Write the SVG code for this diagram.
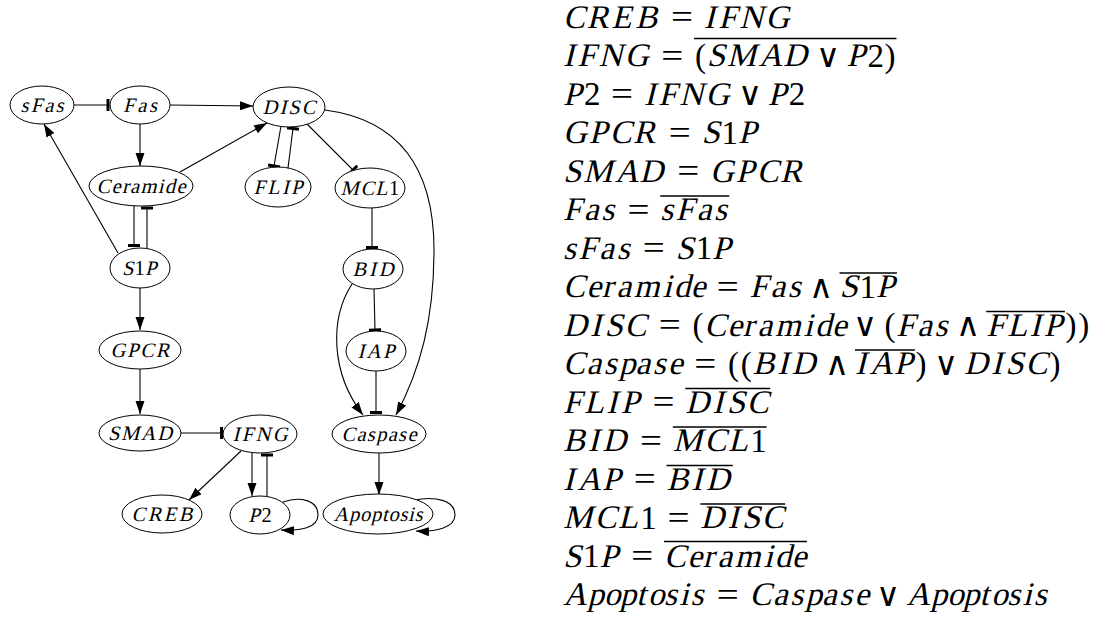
<svg xmlns="http://www.w3.org/2000/svg" width="1114" height="621" viewBox="0 0 1114 621">
  <style>
    .node ellipse { fill: #fff; stroke: #000; stroke-width: 1; }
    .lbl { font-size: 20.5px; fill: #000; }
    .mid { text-anchor: middle; }
    .edge { fill: none; stroke: #000; stroke-width: 1.1; }
    .act { marker-end: url(#arrow); }
    .inh { marker-end: url(#tee); }
    .eq { font-size: 33px; fill: #000; }
    .op { font-size: 33px; text-anchor: middle; fill: #000; }
    .bar { stroke: #000; stroke-width: 1.3; }
  </style>
  <defs>
    <marker id="arrow" viewBox="0 -5 13 10" refX="13" refY="0" markerWidth="13" markerHeight="10" markerUnits="userSpaceOnUse" orient="auto">
      <path d="M0,-4.5L13,0L0,4.5z" fill="#000"/>
    </marker>
    <marker id="tee" viewBox="-2 -7 4 14" refX="0" refY="0" markerWidth="4" markerHeight="14" markerUnits="userSpaceOnUse" orient="auto">
      <rect x="-1.5" y="-6" width="3" height="12" fill="#000"/>
    </marker>
  </defs>

  <!-- regulatory network; slanted labels use skewX(-14) shifted back so the baseline stays put -->
  <g id="edges">
    <path class="edge inh" d="M74,105 L108,105"/>
    <path class="edge act" d="M170,105 L253,106"/>
    <path class="edge act" d="M140,124 L140,166"/>
    <path class="edge act" d="M180,172 L267,123"/>
    <path class="edge inh" d="M134,206 L134,245.5"/>
    <path class="edge inh" d="M147,248 L147,208"/>
    <path class="edge act" d="M118,253 L44,124"/>
    <path class="edge act" d="M140,288 L140,330"/>
    <path class="edge act" d="M140,369 L140,414"/>
    <path class="edge inh" d="M181,433 L221.5,433"/>
    <path class="edge act" d="M241,451 L189,500"/>
    <path class="edge act" d="M252,453 L252,496"/>
    <path class="edge inh" d="M267,496 L267,455"/>
    <path class="edge act" d="M283,502 C300,496 318,500 318,515 C318,528 300,531 281,530"/>
    <path class="edge act" d="M414,500 C435,496 455,500 455,515 C455,528 435,532 416,531"/>
    <path class="edge inh" d="M281,126 L274,166"/>
    <path class="edge inh" d="M288,168 L293,128.5"/>
    <path class="edge inh" d="M307,124 L353,170"/>
    <path class="edge inh" d="M372,208 L372,247.5"/>
    <path class="edge inh" d="M374,289 L375,330"/>
    <path class="edge inh" d="M376,371 L376,412.5"/>
    <path class="edge act" d="M352,284 C330,318 330,372 363,415"/>
    <path class="edge act" d="M325,110 C400,120 434,170 434,250 C434,320 420,370 396,415"/>
    <path class="edge act" d="M379,453 L379,495"/>
  </g>

  <g id="nodes" font-family="Liberation Serif, Liberation Sans, sans-serif">
    <g id="sFas" class="node"><ellipse cx="42" cy="105" rx="32" ry="19"/><text class="lbl mid" x="42" y="112" textLength="43" transform="translate(27.93,0) skewX(-14)">sFas</text></g>
    <g id="Fas" class="node"><ellipse cx="140" cy="105" rx="30" ry="19"/><text class="lbl mid" x="140" y="112" textLength="34" transform="translate(27.93,0) skewX(-14)">Fas</text></g>
    <g id="DISC" class="node"><ellipse cx="289" cy="107" rx="36" ry="20"/><text class="lbl mid" x="289" y="114" textLength="53" transform="translate(28.42,0) skewX(-14)">DISC</text></g>
    <g id="Ceramide" class="node"><ellipse cx="141" cy="186" rx="52" ry="20"/><text class="lbl mid" x="141" y="193" textLength="89" transform="translate(48.12,0) skewX(-14)">Ceramide</text></g>
    <g id="FLIP" class="node"><ellipse cx="278" cy="187" rx="33" ry="20"/><text class="lbl mid" x="278" y="194" textLength="49" transform="translate(48.37,0) skewX(-14)">FLIP</text></g>
    <g id="MCL1" class="node"><ellipse cx="370" cy="188" rx="35" ry="20"/><text class="lbl" x="340.6 360.5 375.2" y="195" transform="translate(48.62,0) skewX(-14)">MCL</text><text class="lbl" x="389.1" y="195">1</text></g>
    <g id="S1P" class="node"><ellipse cx="140" cy="268" rx="30" ry="20"/><text class="lbl" x="122 144.9" y="275" transform="translate(68.57,0) skewX(-14)">SP</text><text class="lbl" x="134.6" y="275">1</text></g>
    <g id="BID" class="node"><ellipse cx="373" cy="269" rx="30" ry="20"/><text class="lbl mid" x="373" y="276" textLength="41" transform="translate(68.82,0) skewX(-14)">BID</text></g>
    <g id="GPCR" class="node"><ellipse cx="140" cy="350" rx="41" ry="19"/><text class="lbl mid" x="140" y="357" textLength="59" transform="translate(89.01,0) skewX(-14)">GPCR</text></g>
    <g id="IAP" class="node"><ellipse cx="376" cy="351" rx="30" ry="20"/><text class="lbl mid" x="376" y="358" textLength="37" transform="translate(89.26,0) skewX(-14)">IAP</text></g>
    <g id="SMAD" class="node"><ellipse cx="140" cy="433" rx="41" ry="18"/><text class="lbl mid" x="140" y="440" textLength="64" transform="translate(109.71,0) skewX(-14)">SMAD</text></g>
    <g id="IFNG" class="node"><ellipse cx="260" cy="434" rx="37" ry="19"/><text class="lbl mid" x="260" y="441" textLength="55" transform="translate(109.95,0) skewX(-14)">IFNG</text></g>
    <g id="Caspase" class="node"><ellipse cx="379" cy="434" rx="47" ry="19"/><text class="lbl mid" x="379" y="441" textLength="75" transform="translate(109.95,0) skewX(-14)">Caspase</text></g>
    <g id="CREB" class="node"><ellipse cx="162" cy="514" rx="40" ry="19"/><text class="lbl mid" x="162" y="521" textLength="61" transform="translate(129.9,0) skewX(-14)">CREB</text></g>
    <g id="P2" class="node"><ellipse cx="260" cy="515" rx="30" ry="19"/><text class="lbl" x="248.3" y="522" transform="translate(130.15,0) skewX(-14)">P</text><text class="lbl" x="261.5" y="522">2</text></g>
    <g id="Apoptosis" class="node"><ellipse cx="378" cy="514" rx="55" ry="20"/><text class="lbl mid" x="378" y="521" textLength="89" transform="translate(129.9,0) skewX(-14)">Apoptosis</text></g>
  </g>

  <!-- update rules: slanted letters, upright digits, brackets and operators -->
  <g id="rules" font-family="Liberation Serif, Liberation Sans, sans-serif">
    <g>
      <text class="eq" y="28" transform="translate(6.98,0) skewX(-14)"><tspan x="563 586.39 611.21 635.36">CREB</tspan><tspan x="703.77 718.14 739.17 765.44">IFNG</tspan></text>
      <text class="op" x="681.97" y="28" textLength="22" lengthAdjust="spacingAndGlyphs">=</text>
    </g>
    <g>
      <text class="eq" y="66.5" transform="translate(16.58,0) skewX(-14)"><tspan x="563 577.37 598.4 624.67">IFNG</tspan><tspan x="706.7 726.76 758.48 783.01">SMAD</tspan><tspan x="846.41">P</tspan></text>
      <text class="eq" y="66.5"><tspan x="695">(</tspan><tspan x="867.4">2</tspan><tspan x="884.5">)</tspan></text>
      <text class="op" x="672.18" y="66.5" textLength="22" lengthAdjust="spacingAndGlyphs">=</text>
      <text class="op" x="828.25" y="66.5">∨</text>
      <line class="bar" x1="693.98" y1="38.5" x2="896.47" y2="38.5"/>
    </g>
    <g>
      <text class="eq" y="105" transform="translate(26.18,0) skewX(-14)"><tspan x="563">P</tspan><tspan x="643.95 658.32 679.35 705.62">IFNG</tspan><tspan x="767.66">P</tspan></text>
      <text class="eq" y="105"><tspan x="583.99">2</tspan><tspan x="788.65">2</tspan></text>
      <text class="op" x="622.14" y="105" textLength="22" lengthAdjust="spacingAndGlyphs">=</text>
      <text class="op" x="749.5" y="105">∨</text>
    </g>
    <g>
      <text class="eq" y="143.5" transform="translate(35.78,0) skewX(-14)"><tspan x="563 588.71 609.7 633.09">GPCR</tspan><tspan x="701.52">S</tspan><tspan x="737.93">P</tspan></text>
      <text class="eq" y="143.5" x="721.58">1</text>
      <text class="op" x="679.71" y="143.5" textLength="22" lengthAdjust="spacingAndGlyphs">=</text>
    </g>
    <g>
      <text class="eq" y="182" transform="translate(45.38,0) skewX(-14)"><tspan x="563 583.06 614.78 639.31">SMAD</tspan><tspan x="709.99 735.7 756.69 780.08">GPCR</tspan></text>
      <text class="op" x="688.18" y="182" textLength="22" lengthAdjust="spacingAndGlyphs">=</text>
    </g>
    <g>
      <text class="eq" y="220.5" transform="translate(54.98,0) skewX(-14)"><tspan x="563 584.03 601.33">Fas</tspan><tspan x="660.28 675.62 696.65 713.95">sFas</tspan></text>
      <text class="op" x="638.47" y="220.5" textLength="22" lengthAdjust="spacingAndGlyphs">=</text>
      <line class="bar" x1="660.28" y1="196" x2="729.29" y2="196"/>
    </g>
    <g>
      <text class="eq" y="259" transform="translate(64.58,0) skewX(-14)"><tspan x="563 578.34 599.37 616.67">sFas</tspan><tspan x="675.62">S</tspan><tspan x="712.03">P</tspan></text>
      <text class="eq" y="259" x="695.68">1</text>
      <text class="op" x="653.81" y="259" textLength="22" lengthAdjust="spacingAndGlyphs">=</text>
    </g>
    <g>
      <text class="eq" y="297.5" transform="translate(74.18,0) skewX(-14)"><tspan x="563 586.39 601.63 616.38 633.68 662.39 673.66 690.67">Ceramide</tspan><tspan x="749.52 770.55 787.85">Fas</tspan><tspan x="839.52">S</tspan><tspan x="875.93">P</tspan></text>
      <text class="eq" y="297.5" x="859.58">1</text>
      <text class="op" x="727.71" y="297.5" textLength="22" lengthAdjust="spacingAndGlyphs">=</text>
      <text class="op" x="821.36" y="297.5">∧</text>
      <line class="bar" x1="839.52" y1="273" x2="896.92" y2="273"/>
    </g>
    <g>
      <text class="eq" y="336" transform="translate(83.78,0) skewX(-14)"><tspan x="563 590.07 604.44 624.5">DISC</tspan><tspan x="704.22 727.61 742.85 757.6 774.9 803.61 814.88 831.89">Ceramide</tspan><tspan x="896.19 917.22 934.52">Fas</tspan><tspan x="986.19 1007.22 1029.48 1043.85">FLIP</tspan></text>
      <text class="eq" y="336"><tspan x="692.5">(</tspan><tspan x="884.47">(</tspan><tspan x="1065.6 1078.3">))</tspan></text>
      <text class="op" x="669.69" y="336" textLength="22" lengthAdjust="spacingAndGlyphs">=</text>
      <text class="op" x="865.3" y="336">∨</text>
      <text class="op" x="968.03" y="336">∧</text>
      <line class="bar" x1="986.19" y1="311.5" x2="1064.84" y2="311.5"/>
    </g>
    <g>
      <text class="eq" y="374.5" transform="translate(93.37,0) skewX(-14)"><tspan x="563 586.39 603.69 619.03 635.48 652.78 668.12">Caspase</tspan><tspan x="752.41 777.22 791.59">BID</tspan><tspan x="854.99 869.36 893.89">IAP</tspan><tspan x="963.93 991 1005.37 1025.43">DISC</tspan></text>
      <text class="eq" y="374.5"><tspan x="727.97 740.69">((</tspan><tspan x="915.6">)</tspan><tspan x="1049.6">)</tspan></text>
      <text class="op" x="705.16" y="374.5" textLength="22" lengthAdjust="spacingAndGlyphs">=</text>
      <text class="op" x="836.83" y="374.5">∧</text>
      <text class="op" x="945.77" y="374.5">∨</text>
      <line class="bar" x1="854.99" y1="350" x2="914.88" y2="350"/>
    </g>
    <g>
      <text class="eq" y="413" transform="translate(102.97,0) skewX(-14)"><tspan x="563 584.03 606.29 620.66">FLIP</tspan><tspan x="685.26 712.33 726.7 746.76">DISC</tspan></text>
      <text class="op" x="663.45" y="413" textLength="22" lengthAdjust="spacingAndGlyphs">=</text>
      <line class="bar" x1="685.26" y1="388.5" x2="770.15" y2="388.5"/>
    </g>
    <g>
      <text class="eq" y="451.5" transform="translate(112.57,0) skewX(-14)"><tspan x="563 587.81 602.18">BID</tspan><tspan x="672.86 704.58 727.97">MCL</tspan></text>
      <text class="eq" y="451.5" x="750.23">1</text>
      <text class="op" x="651.05" y="451.5" textLength="22" lengthAdjust="spacingAndGlyphs">=</text>
      <line class="bar" x1="672.86" y1="427" x2="766.58" y2="427"/>
    </g>
    <g>
      <text class="eq" y="490" transform="translate(122.17,0) skewX(-14)"><tspan x="563 577.37 601.9">IAP</tspan><tspan x="666.5 691.31 705.68">BID</tspan></text>
      <text class="op" x="644.69" y="490" textLength="22" lengthAdjust="spacingAndGlyphs">=</text>
      <line class="bar" x1="666.5" y1="465.5" x2="732.75" y2="465.5"/>
    </g>
    <g>
      <text class="eq" y="528.5" transform="translate(131.77,0) skewX(-14)"><tspan x="563 594.72 618.11">MCL</tspan><tspan x="700.33 727.4 741.77 761.83">DISC</tspan></text>
      <text class="eq" y="528.5" x="640.37">1</text>
      <text class="op" x="678.52" y="528.5" textLength="22" lengthAdjust="spacingAndGlyphs">=</text>
      <line class="bar" x1="700.33" y1="504" x2="785.22" y2="504"/>
    </g>
    <g>
      <text class="eq" y="567" transform="translate(141.37,0) skewX(-14)"><tspan x="563">S</tspan><tspan x="599.41">P</tspan><tspan x="664.01 687.4 702.64 717.39 734.69 763.4 774.67 791.68">Ceramide</tspan></text>
      <text class="eq" y="567" x="583.06">1</text>
      <text class="op" x="642.2" y="567" textLength="22" lengthAdjust="spacingAndGlyphs">=</text>
      <line class="bar" x1="664.01" y1="541.5" x2="806.92" y2="541.5"/>
    </g>
    <g>
      <text class="eq" y="605.5" transform="translate(150.97,0) skewX(-14)"><tspan x="563 587.53 603.98 619.83 636.28 648.09 663.94 679.28 690.55">Apoptosis</tspan><tspan x="749.5 772.89 790.19 805.53 821.98 839.28 854.62">Caspase</tspan><tspan x="906.19 930.72 947.17 963.02 979.47 991.28 1007.13 1022.47 1033.74">Apoptosis</tspan></text>
      <text class="op" x="727.69" y="605.5" textLength="22" lengthAdjust="spacingAndGlyphs">=</text>
      <text class="op" x="888.03" y="605.5">∨</text>
    </g>
  </g>
</svg>
